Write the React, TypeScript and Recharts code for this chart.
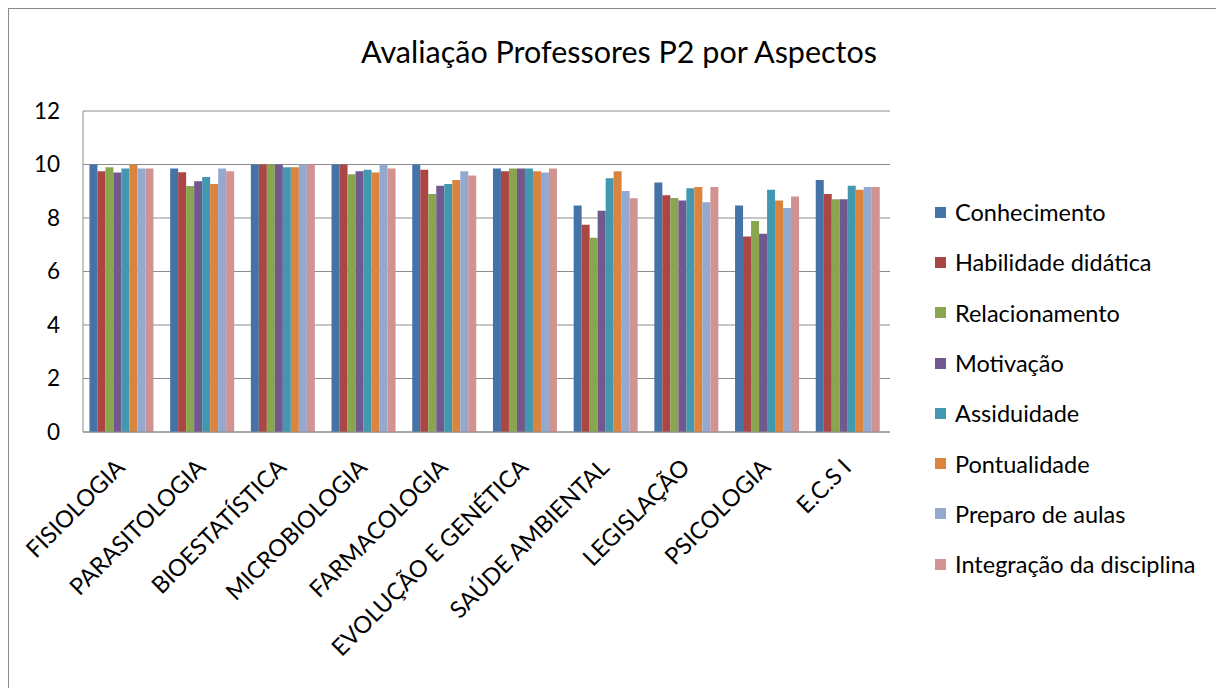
import React from 'react';
import { BarChart, Bar, XAxis, YAxis, CartesianGrid, Legend } from 'recharts';

const disciplinas = [
  'FISIOLOGIA', 'PARASITOLOGIA', 'BIOESTATÍSTICA', 'MICROBIOLOGIA', 'FARMACOLOGIA',
  'EVOLUÇÃO E GENÉTICA', 'SAÚDE AMBIENTAL', 'LEGISLAÇÃO', 'PSICOLOGIA', 'E.C.S I',
];

const conhecimento = [10, 9.85, 10, 10, 10, 9.85, 8.47, 9.33, 8.47, 9.42];
const habilidade = [9.75, 9.71, 10, 10, 9.8, 9.75, 7.75, 8.85, 7.31, 8.9];
const relacionamento = [9.9, 9.2, 10, 9.64, 8.9, 9.85, 7.26, 8.75, 7.89, 8.7];
const motivacao = [9.7, 9.37, 10, 9.75, 9.21, 9.85, 8.27, 8.65, 7.41, 8.7];
const assiduidade = [9.85, 9.53, 9.9, 9.8, 9.27, 9.85, 9.49, 9.11, 9.06, 9.21];
const pontualidade = [10, 9.27, 9.9, 9.7, 9.42, 9.75, 9.75, 9.16, 8.65, 9.06];
const preparo = [9.85, 9.85, 10, 10, 9.75, 9.7, 9.01, 8.59, 8.37, 9.16];
const integracao = [9.85, 9.75, 10, 9.85, 9.59, 9.85, 8.74, 9.16, 8.8, 9.16];

const yTicks = [0, 2, 4, 6, 8, 10, 12];

const series = [
  { key: 'conhecimento', name: 'Conhecimento', values: conhecimento, color: '#4572A7' },
  { key: 'habilidade', name: 'Habilidade didática', values: habilidade, color: '#AA4643' },
  { key: 'relacionamento', name: 'Relacionamento', values: relacionamento, color: '#89A54E' },
  { key: 'motivacao', name: 'Motivação', values: motivacao, color: '#71588F' },
  { key: 'assiduidade', name: 'Assiduidade', values: assiduidade, color: '#4198AF' },
  { key: 'pontualidade', name: 'Pontualidade', values: pontualidade, color: '#DB843D' },
  { key: 'preparo', name: 'Preparo de aulas', values: preparo, color: '#93A9CF' },
  { key: 'integracao', name: 'Integração da disciplina', values: integracao, color: '#D19392' },
];

const data = disciplinas.map((name, i) => {
  const row: Record<string, string | number> = { name };
  series.forEach((s) => { row[s.key] = s.values[i]; });
  return row;
});

const FONT = 'Lato, "Liberation Sans", sans-serif';

const CategoryTick = (props: any) => {
  const { x, y, payload } = props;
  const tx = x + 3;
  const ty = y + 29;
  return (
    <text
      x={tx}
      y={ty}
      transform={`rotate(-45, ${tx}, ${ty})`}
      textAnchor="end"
      fontSize={23.5}
      fontFamily={FONT}
      fill="#000"
    >
      {payload.value}
    </text>
  );
};

const renderLegend = () => (
  <div style={{ fontFamily: FONT, fontSize: 23.5, color: '#000' }}>
    {series.map((s) => (
      <div key={s.key} style={{ display: 'flex', alignItems: 'center', height: 50.3 }}>
        <span style={{ width: 11, height: 11, background: s.color, marginRight: 9, display: 'inline-block' }} />
        <span>{s.name}</span>
      </div>
    ))}
  </div>
);

const App: React.FC = () => {
  return (
    <div
      style={{
        position: 'relative',
        width: 1215,
        height: 679,
        borderLeft: '1px solid #8a8a8a',
        borderTop: '1px solid #8a8a8a',
        background: '#fff',
      }}
    >
      <div
        style={{
          position: 'absolute',
          top: 24,
          left: 0,
          width: 1220,
          textAlign: 'center',
          fontFamily: FONT,
          fontSize: 30.5,
          color: '#000',
        }}
      >
        Avaliação Professores P2 por Aspectos
      </div>
      <BarChart
        width={1215}
        height={679}
        data={data}
        margin={{ top: 102, right: 334, left: 0, bottom: 0 }}
        barCategoryGap="8%"
        barGap={0}
      >
        <CartesianGrid vertical={false} stroke="#8c8c8c" />
        <XAxis
          dataKey="name"
          height={256}
          interval={0}
          tickLine={false}
          axisLine={{ stroke: '#8c8c8c' }}
          tick={<CategoryTick />}
        />
        <YAxis
          width={74}
          domain={[0, 12]}
          ticks={yTicks}
          tickLine={false}
          axisLine={{ stroke: '#8c8c8c' }}
          tickMargin={17}
          tick={{ fontSize: 22.5, fontFamily: FONT, fill: '#000' }}
        />
        <Legend
          layout="horizontal"
          verticalAlign="middle"
          align="center"
          content={renderLegend}
          wrapperStyle={{ position: 'absolute', left: 926, top: 178, width: 290 }}
        />
        {series.map((s) => (
          <Bar key={s.key} dataKey={s.key} name={s.name} fill={s.color} isAnimationActive={false} />
        ))}
      </BarChart>
    </div>
  );
};

export default App;
